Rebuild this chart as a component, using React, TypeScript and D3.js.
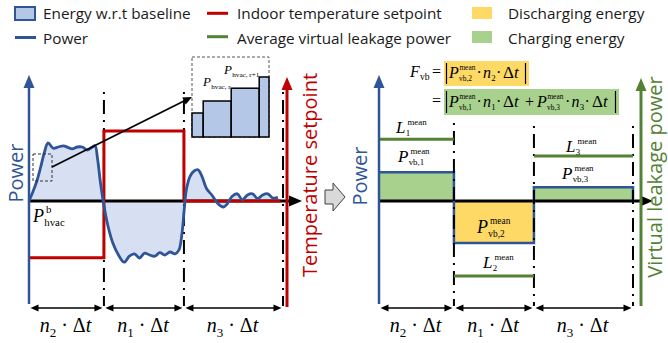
import React, { useEffect, useRef } from 'react';
import * as d3 from 'd3';

// time runs 0..100 across each panel, split into three periods
const periodBounds = [0, 29.5, 61, 100];
const periodIndex = ['2', '1', '3'];

// hvac power w.r.t baseline (left panel)
const powerTime = [0, 1.5, 3, 4.5, 6, 7.5, 9.5, 11.5, 13.5, 15.5, 17, 19, 21, 23, 25, 26, 27, 28, 29.2,
  31, 33, 35.5, 37.5, 39.5, 41.5, 43.5, 45.5, 47.5, 49.5, 51.5, 53.5, 55.5, 57.5, 59, 60.2, 61.2,
  62, 63.5, 65, 66.5, 68, 70, 72, 74.5, 76.5, 78, 80, 82, 84, 86, 88, 90, 92, 94, 96, 98];
const powerValue = [0, 0.15, 0.32, 0.55, 0.8, 0.97, 0.88, 0.9, 0.92, 0.89, 0.87, 0.9, 0.9, 0.85, 0.9, 0.92, 0.7, 0.35, 0,
  -0.4, -0.7, -0.92, -1.02, -0.92, -0.88, -0.95, -0.87, -0.9, -0.92, -0.86, -0.9, -0.85, -0.88, -0.82, -0.55, -0.1,
  0.2, 0.42, 0.5, 0.52, 0.42, 0.2, 0.1, -0.05, -0.1, -0.05, 0.08, 0.12, 0.02, 0.1, 0.12, 0.04, 0.1, 0.12, 0.05, 0.06];

// indoor temperature setpoint (left panel)
const setpointTime = [0, 29.5, 29.5, 61, 61, 99];
const setpointValue = [-0.81, -0.81, 1, 1, 0, 0];

// right panel
const meanPower = [0.48, -0.7, 0.23];
const leakage = [1.03, -1.25, 0.75];

// zoomed inset: hvac power steps
const insetStart = [-0.4, 0, 1, 2];
const insetEnd = [0, 1, 2, 2.35];
const insetValue = [0.3, 0.45, 0.61, 0.75];

const BLUE = '#2f5597';
const LIGHT_BLUE = '#d6e0f2';
const BAR_BLUE = '#b4c7e7';
const RED = '#c00000';
const GREEN = '#548235';
const GREEN_FILL = '#a9d18e';
const YELLOW = '#ffd966';
const SANS = '"Open Sans", "Noto Sans", sans-serif';
const SERIF = '"Liberation Serif", "Times New Roman", serif';

const italicW: Record<string, number> = { P: 0.611, L: 0.556, F: 0.611, n: 0.5 };

function App() {
  const ref = useRef<SVGSVGElement>(null);

  useEffect(() => {
    const svg = d3.select(ref.current);
    svg.selectAll('*').remove();

    const yP = d3.scaleLinear().domain([-1, 1]).range([261, 141]);
    const yT = d3.scaleLinear().domain([0, 1]).range([201, 131]);
    const xL = d3.scaleLinear().domain([0, 100]).range([29, 283]);
    const xR = d3.scaleLinear().domain([0, 100]).range([379, 633]);

    const arrowUp = (x, tip, color, w = 11, h = 13) => {
      svg.append('path')
        .attr('d', `M${x},${tip} L${x - w / 2},${tip + h} L${x + w / 2},${tip + h} Z`)
        .attr('fill', color);
    };
    const arrowRight = (tip, y, color, w = 11, h = 13) => {
      svg.append('path')
        .attr('d', `M${tip},${y} L${tip - h},${y - w / 2} L${tip - h},${y + w / 2} Z`)
        .attr('fill', color);
    };

    const mathVar = (g, x, y, base, sub, sup, size, ratio = 0.52, supShift = 0.1) => {
      g.append('text').attr('x', x).attr('y', y)
        .attr('font-family', SERIF).attr('font-style', 'italic').attr('font-size', size)
        .text(base);
      const x2 = x + italicW[base] * size + 0.3;
      if (sub) g.append('text').attr('x', x2).attr('y', y + size * 0.2)
        .attr('font-family', SERIF).attr('font-size', size * ratio).text(sub);
      if (sup) g.append('text').attr('x', x2 + size * supShift).attr('y', y - size * 0.48)
        .attr('font-family', SERIF).attr('font-size', size * ratio).text(sup);
    };
    const plain = (g, x, y, s, size, italic = false) => {
      g.append('text').attr('x', x).attr('y', y)
        .attr('font-family', SERIF).attr('font-size', size)
        .attr('font-style', italic ? 'italic' : 'normal')
        .text(s);
    };

    // legend
    const legend = svg.append('g').attr('font-family', SANS).attr('font-size', 15.3).attr('fill', '#1a1a1a');
    legend.append('rect').attr('x', 15).attr('y', 7).attr('width', 20).attr('height', 13)
      .attr('fill', BAR_BLUE).attr('stroke', BLUE).attr('stroke-width', 2);
    legend.append('text').attr('x', 43).attr('y', 18.5).text('Energy w.r.t baseline');
    legend.append('line').attr('x1', 15).attr('x2', 36).attr('y1', 37.5).attr('y2', 37.5)
      .attr('stroke', BLUE).attr('stroke-width', 3);
    legend.append('text').attr('x', 43).attr('y', 43.5).text('Power');
    legend.append('line').attr('x1', 207).attr('x2', 228).attr('y1', 13.3).attr('y2', 13.3)
      .attr('stroke', RED).attr('stroke-width', 3);
    legend.append('text').attr('x', 237).attr('y', 18.5).text('Indoor temperature setpoint');
    legend.append('line').attr('x1', 207).attr('x2', 228).attr('y1', 36.7).attr('y2', 36.7)
      .attr('stroke', GREEN).attr('stroke-width', 3);
    legend.append('text').attr('x', 237).attr('y', 43.5).text('Average virtual leakage power');
    legend.append('rect').attr('x', 472).attr('y', 7).attr('width', 20).attr('height', 12).attr('fill', YELLOW);
    legend.append('text').attr('x', 508).attr('y', 18.5).text('Discharging energy');
    legend.append('rect').attr('x', 472).attr('y', 31).attr('width', 20).attr('height', 12).attr('fill', GREEN_FILL);
    legend.append('text').attr('x', 508).attr('y', 43.5).text('Charging energy');

    // ---------- left panel ----------
    const powerData = powerTime.map((t, i) => ({ t, p: powerValue[i] }));
    const area = d3.area<any>()
      .x(d => xL(d.t)).y0(yP(0)).y1(d => yP(d.p))
      .curve(d3.curveCatmullRom.alpha(0.5));
    svg.append('path').attr('d', area(powerData)).attr('fill', LIGHT_BLUE);

    // horizontal axis
    svg.append('line').attr('x1', xL(0)).attr('x2', 292).attr('y1', yP(0)).attr('y2', yP(0))
      .attr('stroke', '#000').attr('stroke-width', 3.2);
    arrowRight(302, yP(0), '#000');

    // period separators
    periodBounds.slice(1).forEach(b => {
      svg.append('line').attr('x1', xL(b)).attr('x2', xL(b)).attr('y1', 92).attr('y2', 306)
        .attr('stroke', '#000').attr('stroke-width', 2).attr('stroke-dasharray', '2,6,14,6');
    });

    // setpoint
    const setLine = d3.line<any>().x(d => xL(d.t)).y(d => yT(d.v));
    svg.append('path')
      .attr('d', setLine(setpointTime.map((t, i) => ({ t, v: setpointValue[i] }))))
      .attr('fill', 'none').attr('stroke', RED).attr('stroke-width', 3);

    // power curve
    const powerLine = d3.line<any>().x(d => xL(d.t)).y(d => yP(d.p)).curve(d3.curveCatmullRom.alpha(0.5));
    svg.append('path').attr('d', powerLine(powerData))
      .attr('fill', 'none').attr('stroke', BLUE).attr('stroke-width', 2.8);

    // axes
    svg.append('line').attr('x1', xL(0)).attr('x2', xL(0)).attr('y1', 304).attr('y2', 85)
      .attr('stroke', BLUE).attr('stroke-width', 2.5);
    arrowUp(xL(0), 75, BLUE);
    svg.append('line').attr('x1', 287).attr('x2', 287).attr('y1', 307).attr('y2', 87)
      .attr('stroke', RED).attr('stroke-width', 3);
    arrowUp(287, 77, RED);

    // magnifier box + arrow
    svg.append('rect').attr('x', 33).attr('y', 154).attr('width', 19).attr('height', 27)
      .attr('fill', 'none').attr('stroke', '#333').attr('stroke-width', 1).attr('stroke-dasharray', '3,2');
    svg.append('line').attr('x1', 52).attr('y1', 167).attr('x2', 186).attr('y2', 100)
      .attr('stroke', '#000').attr('stroke-width', 1.6);
    const ang = Math.atan2(97 - 167, 192 - 52);
    const tx = 192, ty = 97, hl = 9, hw = 4;
    svg.append('path').attr('d', `M${tx},${ty} L${tx - hl * Math.cos(ang) + hw * Math.sin(ang)},${ty - hl * Math.sin(ang) - hw * Math.cos(ang)} L${tx - hl * Math.cos(ang) - hw * Math.sin(ang)},${ty - hl * Math.sin(ang) + hw * Math.cos(ang)} Z`)
      .attr('fill', '#000');

    // inset
    const xI = d3.scaleLinear().domain([-0.4, 2.35]).range([192, 269]);
    const yI = d3.scaleLinear().domain([0, 1]).range([137, 57]);
    svg.append('rect').attr('x', 192).attr('y', 57).attr('width', 77).attr('height', 80)
      .attr('fill', '#fff').attr('stroke', '#555').attr('stroke-width', 1).attr('stroke-dasharray', '3,2');
    svg.append('g').selectAll('rect')
      .data(insetValue)
      .join('rect')
      .attr('x', (d, i) => xI(insetStart[i]))
      .attr('width', (d, i) => xI(insetEnd[i]) - xI(insetStart[i]))
      .attr('y', d => yI(d))
      .attr('height', d => yI(0) - yI(d))
      .attr('fill', BAR_BLUE).attr('stroke', '#000').attr('stroke-width', 1.5);
    const gi = svg.append('g').attr('fill', '#000');
    mathVar(gi, 203, 86, 'P', 'hvac, r', null, 13, 0.55);
    mathVar(gi, 224, 74, 'P', 'hvac, r+1', null, 13, 0.55);

    const gl = svg.append('g').attr('fill', '#000');
    mathVar(gl, 33, 222, 'P', 'hvac', 'b', 18, 0.6);

    // rotated axis titles
    svg.append('text').attr('transform', 'translate(23,173) rotate(-90)')
      .attr('text-anchor', 'middle').attr('font-family', SANS).attr('font-size', 20)
      .attr('fill', BLUE).text('Power');
    svg.append('text').attr('transform', 'translate(317,175) rotate(-90)')
      .attr('text-anchor', 'middle').attr('font-family', SANS).attr('font-size', 20)
      .attr('fill', RED).text('Temperature setpoint');

    // ---------- middle arrow ----------
    svg.append('path').attr('d', 'M325,190 L333,190 L333,183 L345,197 L333,211 L333,204 L325,204 Z')
      .attr('fill', '#d9d9d9').attr('stroke', '#404040').attr('stroke-width', 1);

    // ---------- right panel ----------
    svg.append('g').selectAll('rect')
      .data(meanPower)
      .join('rect')
      .attr('x', (d, i) => xR(periodBounds[i]))
      .attr('width', (d, i) => xR(periodBounds[i + 1]) - xR(periodBounds[i]))
      .attr('y', d => Math.min(yP(d), yP(0)))
      .attr('height', d => Math.abs(yP(d) - yP(0)))
      .attr('fill', d => d > 0 ? GREEN_FILL : YELLOW);

    svg.append('line').attr('x1', xR(0)).attr('x2', 643).attr('y1', yP(0)).attr('y2', yP(0))
      .attr('stroke', '#000').attr('stroke-width', 3.2);
    arrowRight(653, yP(0), '#000');

    const stepData = meanPower.map((p, i) => ({ t: periodBounds[i], p }))
      .concat([{ t: 100, p: meanPower[2] }, { t: 100, p: 0 }]);
    const stepLine = d3.line<any>().x(d => xR(d.t)).y(d => yP(d.p)).curve(d3.curveStepAfter);
    svg.append('path').attr('d', stepLine(stepData))
      .attr('fill', 'none').attr('stroke', BLUE).attr('stroke-width', 2.5);

    periodBounds.slice(1).forEach((b, i) => {
      svg.append('line').attr('x1', xR(b)).attr('x2', xR(b)).attr('y1', i === 0 ? 123 : 126).attr('y2', 306)
        .attr('stroke', '#000').attr('stroke-width', 2).attr('stroke-dasharray', '2,6,14,6');
    });

    svg.append('g').selectAll('line')
      .data(leakage)
      .join('line')
      .attr('x1', (d, i) => xR(periodBounds[i]))
      .attr('x2', (d, i) => xR(periodBounds[i + 1]))
      .attr('y1', d => yP(d)).attr('y2', d => yP(d))
      .attr('stroke', GREEN).attr('stroke-width', 3);

    svg.append('line').attr('x1', xR(0)).attr('x2', xR(0)).attr('y1', 304).attr('y2', 85)
      .attr('stroke', BLUE).attr('stroke-width', 2.5);
    arrowUp(xR(0), 75, BLUE);
    svg.append('line').attr('x1', 641).attr('x2', 641).attr('y1', 306).attr('y2', 88)
      .attr('stroke', GREEN).attr('stroke-width', 3);
    arrowUp(641, 78, GREEN);

    svg.append('text').attr('transform', 'translate(367,176) rotate(-90)')
      .attr('text-anchor', 'middle').attr('font-family', SANS).attr('font-size', 20)
      .attr('fill', BLUE).text('Power');
    svg.append('text').attr('transform', 'translate(662,177) rotate(-90)')
      .attr('text-anchor', 'middle').attr('font-family', SANS).attr('font-size', 20)
      .attr('fill', GREEN).text('Virtual leakage power');

    const gr = svg.append('g').attr('fill', '#000');
    mathVar(gr, 396, 133, 'L', '1', 'mean', 17);
    mathVar(gr, 398, 162, 'P', 'vb,1', 'mean', 17);
    mathVar(gr, 566, 152, 'L', '3', 'mean', 17);
    mathVar(gr, 562, 179, 'P', 'vb,3', 'mean', 17);
    mathVar(gr, 477, 233, 'P', 'vb,2', 'mean', 18);
    mathVar(gr, 483, 268, 'L', '2', 'mean', 17);

    // formula
    const gf = svg.append('g').attr('fill', '#000');
    gf.append('rect').attr('x', 444).attr('y', 61).attr('width', 85).attr('height', 25).attr('fill', YELLOW);
    gf.append('rect').attr('x', 444).attr('y', 89).attr('width', 175).attr('height', 26).attr('fill', GREEN_FILL);
    mathVar(gf, 410, 77, 'F', 'vb', null, 16, 0.6);
    plain(gf, 432, 77, '=', 16);
    const bar = (x, y1, y2) => gf.append('line').attr('x1', x).attr('x2', x).attr('y1', y1).attr('y2', y2)
      .attr('stroke', '#000').attr('stroke-width', 1.2);
    bar(446.5, 63, 84);
    mathVar(gf, 449, 78, 'P', 'vb,2', 'mean', 16, 0.46, 0.02);
    plain(gf, 476.5, 78, '·', 16);
    mathVar(gf, 483, 78, 'n', '2', null, 16, 0.55);
    plain(gf, 496, 78, '·', 16);
    plain(gf, 503, 78, 'Δ', 17);
    plain(gf, 514, 78, 't', 17, true);
    bar(525.5, 63, 84);

    plain(gf, 432, 106, '=', 16);
    bar(446.5, 91, 113);
    mathVar(gf, 449, 107, 'P', 'vb,1', 'mean', 16, 0.46, 0.02);
    plain(gf, 476.5, 107, '·', 16);
    mathVar(gf, 483, 107, 'n', '1', null, 16, 0.55);
    plain(gf, 496, 107, '·', 16);
    plain(gf, 503, 107, 'Δ', 17);
    plain(gf, 514, 107, 't', 17, true);
    plain(gf, 525, 107, '+', 16);
    mathVar(gf, 537, 107, 'P', 'vb,3', 'mean', 16, 0.46, 0.02);
    plain(gf, 565, 107, '·', 16);
    mathVar(gf, 571.5, 107, 'n', '3', null, 16, 0.55);
    plain(gf, 584.5, 107, '·', 16);
    plain(gf, 592, 107, 'Δ', 17);
    plain(gf, 603, 107, 't', 17, true);
    bar(615.5, 91, 113);

    // ---------- period dimension arrows ----------
    [xL, xR].forEach(xs => {
      periodIndex.forEach((n, i) => {
        const a = xs(periodBounds[i]) + 1.5, b = xs(periodBounds[i + 1]) - 1.5, y = 308;
        svg.append('line').attr('x1', a + 5).attr('x2', b - 5).attr('y1', y).attr('y2', y)
          .attr('stroke', '#000').attr('stroke-width', 1.5);
        svg.append('path').attr('d', `M${a},${y} L${a + 8},${y - 3.5} L${a + 8},${y + 3.5} Z`).attr('fill', '#000');
        svg.append('path').attr('d', `M${b},${y} L${b - 8},${y - 3.5} L${b - 8},${y + 3.5} Z`).attr('fill', '#000');
        const t = svg.append('text').attr('x', (a + b) / 2 - 1).attr('y', 332)
          .attr('text-anchor', 'middle').attr('font-family', SERIF).attr('font-size', 20);
        t.append('tspan').attr('font-style', 'italic').text('n');
        t.append('tspan').attr('font-size', 13).attr('dy', 5).text(n);
        t.append('tspan').attr('dy', -5).text(' · Δ');
        t.append('tspan').attr('font-style', 'italic').text('t');
      });
    });
  }, []);

  return (
    <svg ref={ref} width={668} height={343}
      style={{ position: 'absolute', left: 0, top: 0, background: '#fff' }} />
  );
}

export default App;
